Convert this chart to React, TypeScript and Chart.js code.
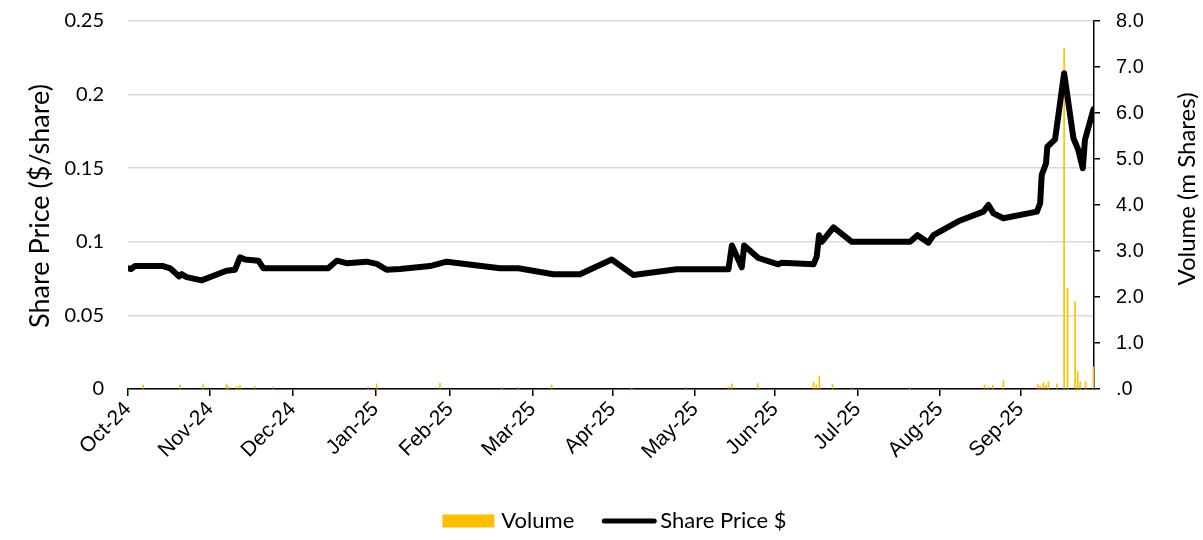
import React, { useEffect, useRef } from 'react';
import { Chart, registerables } from 'chart.js';

Chart.register(...registerables);

// Month tick labels and their positions on the day axis (axis unit = day from left edge)
const monthLabels = ['Oct-24', 'Nov-24', 'Dec-24', 'Jan-25', 'Feb-25', 'Mar-25', 'Apr-25', 'May-25', 'Jun-25', 'Jul-25', 'Aug-25', 'Sep-25'];
const monthTicks = [0, 30.8, 61.8, 92.8, 120.8, 151.8, 181.8, 212.7, 242.7, 273.7, 304.5, 334.8];
const axisEnd = 362.3;

// Share price series ($/share)
const priceDays = [0.1, 1.1, 2.6, 13.2, 15.8, 19.2, 20.1, 22.0, 27.6, 34.5, 37.0, 40.1, 42.0, 43.9, 48.9, 50.8, 75.1, 78.3, 82.0, 89.5, 93.3, 97.0, 102.0, 113.3, 119.5, 139.5, 146.4, 159.5, 169.5, 181.4, 189.5, 205.8, 225.2, 226.5, 230.2, 231.1, 236.4, 243.9, 245.2, 257.1, 258.3, 259.2, 260.2, 264.6, 271.5, 293.3, 296.1, 300.2, 302.1, 312.1, 320.8, 322.7, 324.6, 328.3, 340.9, 342.1, 342.7, 344.3, 344.8, 347.7, 351.1, 354.6, 356.4, 358.1, 358.9, 362.1];
const priceValues = [0.082, 0.0815, 0.0835, 0.0835, 0.082, 0.0765, 0.078, 0.076, 0.0738, 0.0786, 0.0803, 0.081, 0.0895, 0.088, 0.0872, 0.082, 0.082, 0.0872, 0.0855, 0.0865, 0.085, 0.081, 0.0815, 0.0835, 0.0865, 0.082, 0.082, 0.078, 0.078, 0.088, 0.0775, 0.0813, 0.0813, 0.0975, 0.0827, 0.0975, 0.089, 0.0847, 0.0857, 0.0847, 0.09, 0.1045, 0.1, 0.1098, 0.1, 0.1, 0.1045, 0.0994, 0.1045, 0.1145, 0.1205, 0.125, 0.1193, 0.116, 0.1205, 0.1262, 0.1454, 0.1533, 0.1646, 0.1696, 0.2145, 0.1703, 0.1624, 0.15, 0.1692, 0.19];

// Volume series (m shares)
const volumeDays = [5.7, 19.5, 28.2, 37.0, 37.6, 40.8, 42.0, 47.6, 54.4, 90.1, 93.3, 117.0, 140.2, 146.4, 158.9, 188.9, 209.3, 225.2, 226.5, 236.2, 257.1, 258.1, 259.3, 264.2, 271.5, 293.1, 321.2, 322.6, 324.3, 328.3, 341.2, 342.1, 343.3, 344.3, 345.2, 348.4, 351.1, 352.4, 355.2, 356.2, 357.1, 359.2, 362.1];
const volumeValues = [0.09, 0.09, 0.11, 0.11, 0.05, 0.06, 0.08, 0.05, 0.04, 0.05, 0.11, 0.13, 0.03, 0.03, 0.09, 0.02, 0.03, 0.04, 0.11, 0.12, 0.15, 0.09, 0.28, 0.10, 0.03, 0.03, 0.09, 0.04, 0.09, 0.18, 0.10, 0.06, 0.14, 0.08, 0.16, 0.11, 7.41, 2.19, 1.90, 0.38, 0.15, 0.16, 0.48];

const leftTitle = 'Share Price ($/share)';
const rightTitle = 'Volume (m Shares)';
const volumeLabel = 'Volume';
const priceLabel = 'Share Price $';

const VOL_COLOR = '#FFC000';

const overlayPlugin = {
  id: 'overlay',
  afterDraw(chart: any) {
    const { ctx, chartArea } = chart;
    ctx.save();
    ctx.fillStyle = '#000';
    ctx.textAlign = 'center';
    ctx.textBaseline = 'middle';
    // left title
    ctx.save();
    ctx.font = '27px Lato';
    ctx.translate(40, (chartArea.top + chartArea.bottom) / 2 + 1);
    ctx.rotate(-Math.PI / 2);
    ctx.fillText(leftTitle, 0, 0);
    ctx.restore();
    // right title
    ctx.save();
    ctx.font = '24px Lato';
    ctx.translate(chartArea.right + 93, chartArea.top + 168);
    ctx.rotate(-Math.PI / 2);
    ctx.fillText(rightTitle, 0, 0);
    ctx.restore();
    // legend
    ctx.font = '22px Lato';
    ctx.textAlign = 'left';
    const w1 = ctx.measureText(volumeLabel).width;
    const w2 = ctx.measureText(priceLabel).width;
    const total = 52 + 7 + w1 + 28 + 54 + 4 + w2;
    let x = chart.width / 2 + 13 - total / 2;
    const y = 521;
    ctx.fillStyle = VOL_COLOR;
    ctx.fillRect(x, y - 6.5, 52, 13);
    x += 52 + 7;
    ctx.fillStyle = '#000';
    ctx.fillText(volumeLabel, x, y);
    x += w1 + 28;
    ctx.strokeStyle = '#000';
    ctx.lineWidth = 5;
    ctx.lineCap = 'round';
    ctx.beginPath();
    ctx.moveTo(x + 2, y);
    ctx.lineTo(x + 52, y);
    ctx.stroke();
    x += 54 + 4;
    ctx.fillText(priceLabel, x, y);
    ctx.restore();
  },
};

export default function App() {
  const ref = useRef<HTMLCanvasElement>(null);
  useEffect(() => {
    document.body.style.margin = '0';
    const chart = new Chart(ref.current as HTMLCanvasElement, {
      type: 'bar',
      data: {
        datasets: [
          {
            type: 'line',
            label: priceLabel,
            data: priceDays.map((d, i) => ({ x: d, y: priceValues[i] })),
            borderColor: '#000',
            backgroundColor: '#000',
            borderWidth: 6,
            pointRadius: 0,
            borderJoinStyle: 'round',
            borderCapStyle: 'round',
            tension: 0,
            xAxisID: 'x',
            yAxisID: 'y',
            order: 0,
          } as any,
          {
            type: 'bar',
            label: volumeLabel,
            data: volumeDays.map((d, i) => ({ x: d, y: volumeValues[i] })),
            backgroundColor: VOL_COLOR,
            borderWidth: 0,
            barThickness: 1,
            xAxisID: 'x',
            yAxisID: 'y1',
            order: 1,
          } as any,
        ],
      },
      options: {
        responsive: false,
        animation: false,
        devicePixelRatio: 1,
        layout: { padding: { top: 21, bottom: 51, left: 0, right: 0 } },
        plugins: {
          legend: { display: false },
          tooltip: { enabled: false },
        },
        scales: {
          x: {
            type: 'linear',
            min: 0,
            max: axisEnd,
            offset: false,
            afterBuildTicks: (s: any) => {
              s.ticks = monthTicks.map((v) => ({ value: v }));
            },
            afterFit: (s: any) => {
              s.height = 100;
            },
            grid: { display: true, drawOnChartArea: false, drawTicks: true, tickLength: 7, color: '#000', lineWidth: 1.5, offset: false },
            border: { display: true, color: '#000', width: 1.5 },
            ticks: {
              autoSkip: false,
              maxRotation: 45,
              minRotation: 45,
              padding: 1,
              color: '#000',
              font: { family: 'Liberation Sans', size: 21 },
              callback: (_v: any, i: number) => monthLabels[i],
            },
          } as any,
          y: {
            type: 'linear',
            position: 'left',
            min: 0,
            max: 0.25,
            afterFit: (s: any) => {
              s.width = 128;
              s.paddingTop = 0;
              s.paddingBottom = 0;
            },
            ticks: {
              stepSize: 0.05,
              padding: 24,
              color: '#000',
              font: { family: 'Lato', size: 20 },
              callback: (v: any) => String(parseFloat(Number(v).toFixed(4))),
            },
            grid: { color: '#d9d9d9', lineWidth: 1.5, drawTicks: false },
            border: { display: false },
          } as any,
          y1: {
            type: 'linear',
            position: 'right',
            min: 0,
            max: 8,
            afterFit: (s: any) => {
              s.width = 109;
              s.paddingTop = 0;
              s.paddingBottom = 0;
            },
            ticks: {
              stepSize: 1,
              padding: 16,
              color: '#000',
              font: { family: 'Liberation Sans', size: 20 },
              callback: (v: any) => (Number(v) === 0 ? '.0' : Number(v).toFixed(1)),
            },
            grid: { drawOnChartArea: false, drawTicks: true, tickLength: 6, color: '#000', lineWidth: 1.5 },
            border: { display: true, color: '#000', width: 1.5 },
          } as any,
        },
      },
      plugins: [overlayPlugin],
    } as any);
    return () => chart.destroy();
  }, []);
  return (
    <div style={{ width: 1203, height: 540 }}>
      <canvas ref={ref} width={1203} height={540} style={{ display: 'block' }} />
    </div>
  );
}
